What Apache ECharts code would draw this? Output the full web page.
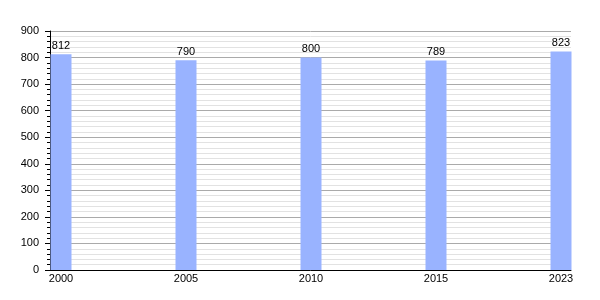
<!DOCTYPE html>
<html>
<head>
<meta charset="utf-8">
<script src="https://cdn.jsdelivr.net/npm/echarts@6/dist/echarts.min.js"></script>
<style>html,body{margin:0;padding:0;background:#fff}#c{width:600px;height:300px}</style>
</head>
<body>
<div id="c"></div>
<script>
const years = ['2000', '2005', '2010', '2015', '2023'];
const population = [812, 790, 800, 789, 823];
const yTicks = [0, 100, 200, 300, 400, 500, 600, 700, 800, 900];

const positions = years.map((_, i) => i);
const chart = echarts.init(document.getElementById('c'), null, {renderer: 'canvas'});
const font = '"Liberation Sans", Arial, sans-serif';
chart.setOption({
  animation: false,
  grid: {left: 50, right: 29, top: 31, bottom: 30, containLabel: false},
  xAxis: {
    type: 'value',
    min: -0.088,
    max: 4.08,
    axisLine: {show: true, onZero: false, lineStyle: {color: '#000', width: 1}},
    axisTick: {show: false},
    splitLine: {show: false},
    axisLabel: {
      customValues: positions,
      formatter: v => years[Math.round(v)],
      color: '#000', fontSize: 11, fontFamily: font, margin: 3
    }
  },
  yAxis: {
    type: 'value',
    min: 0, max: 900, interval: 100,
    axisLine: {show: true, onZero: false, lineStyle: {color: '#000', width: 1}},
    axisTick: {show: true, length: 5, lineStyle: {color: '#000'}},
    minorTick: {show: true, splitNumber: 5, length: 3, lineStyle: {color: '#000'}},
    splitLine: {show: true, lineStyle: {color: '#aaaaaa', width: 1}},
    minorSplitLine: {show: true, lineStyle: {color: '#e2e2e2', width: 1}},
    axisLabel: {color: '#000', fontSize: 11, fontFamily: font, margin: 11,
      formatter: v => yTicks.includes(v) ? String(v) : ''}
  },
  series: [{
    type: 'bar',
    data: population.map((v, i) => [positions[i], v]),
    barWidth: 21,
    itemStyle: {color: '#99b3ff'},
    label: {show: true, position: 'top', distance: 3, color: '#000', fontSize: 11, fontFamily: font}
  }]
});
</script>
</body>
</html>
